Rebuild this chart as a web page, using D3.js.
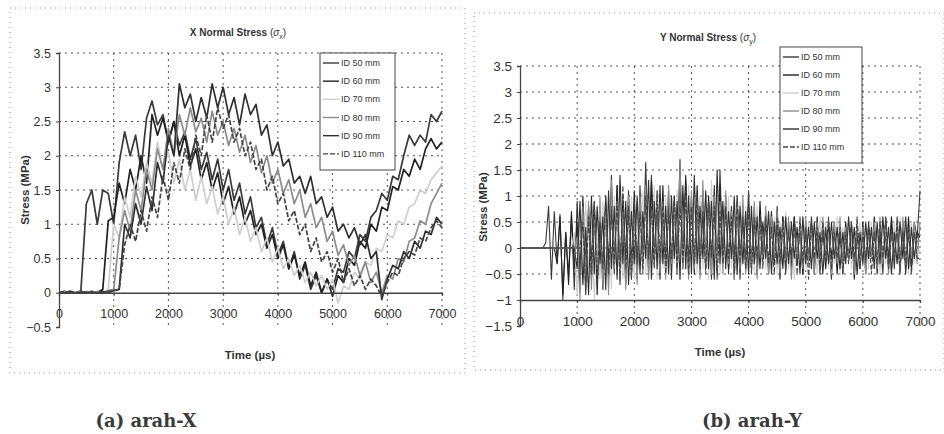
<!DOCTYPE html>
<html>
<head>
<meta charset="utf-8">
<script src="https://cdn.jsdelivr.net/npm/d3@7"></script>
<style>
    body { margin: 0; background: #fff; }
    svg { display: block; }
    .tick text { font-family: "Liberation Sans", Arial, sans-serif; }
</style>
</head>
<body>
<svg width="944" height="434"></svg>
<script>
// sample spacing of the traces, in µs
const timeStepX = 100;
const timeStepY = 50;

const seriesNames = ["ID 50 mm", "ID 60 mm", "ID 70 mm", "ID 80 mm", "ID 90 mm", "ID 110 mm"];
const timeTicks = [0, 1000, 2000, 3000, 4000, 5000, 6000, 7000];
const stressTicksX = [-0.5, 0, 0.5, 1, 1.5, 2, 2.5, 3, 3.5];
const stressTicksY = [-1.5, -1, -0.5, 0, 0.5, 1, 1.5, 2, 2.5, 3, 3.5];

// (a) X normal stress, MPa, every 100 µs from 0 to 7000
const sxID50 = [0,0,0.02,0,0.03,1.3,1.5,1.0,1.5,1.45, 1.0,1.9,2.35,2.0,2.3,1.8,2.55,2.8,2.45,2.6, 2.2,2.5,2.15,2.35,1.95,2.25,1.8,2.05,1.65,1.95, 1.5,1.8,1.35,1.6,1.15,1.4,0.95,1.1,0.7,0.95, 0.55,0.75,0.35,0.6,0.2,0.4,0.05,0.25,0.0,0.2, 0.05,0.35,0.3,0.6,0.5,0.85,0.75,1.1,1.2,1.45, 1.35,1.7,1.65,2.0,2.3,2.15,2.3,2.2,2.6,2.5,2.65];
const sxID60 = [0,0.02,0,0,0.01,0,0.02,0,0.05,1.05, 1.1,1.6,1.3,1.8,1.5,2.0,1.6,2.6,2.3,2.55, 2.2,2.5,2.0,2.3,1.85,2.1,1.65,1.9,1.5,1.75, 1.3,1.55,1.15,1.4,1.0,1.2,0.85,1.0,0.65,0.85, 0.5,0.7,0.35,0.55,0.25,0.45,0.1,0.3,0.0,0.2, -0.05,0.25,0.15,0.5,0.4,0.75,0.65,1.0,0.9,1.25, 1.2,1.55,1.5,1.8,1.7,1.95,1.8,2.1,2.25,2.1,2.2];
const sxID70 = [0,0,0.02,0,0,0.02,0,0.01,0,0.05, 1.0,0.8,1.4,1.1,1.7,1.4,1.9,1.6,2.2,1.8, 2.05,1.6,1.95,1.5,1.8,1.35,1.7,1.3,1.55,1.15, 1.4,1.0,1.25,0.85,1.1,0.75,0.95,0.6,0.8,0.45, 0.65,0.35,0.5,0.25,0.4,0.15,0.3,0.1,0.25,0.05, 0.2,-0.15,0.1,0.05,0.3,0.2,0.45,0.4,0.65,0.6, 0.85,0.8,1.05,1.0,1.25,1.3,1.5,1.45,1.65,1.75,1.85];
const sxID80 = [0,0.02,0,0,0.02,0,0,0.02,0,0.03, 0.05,0.8,1.2,0.9,1.5,1.2,1.8,1.5,2.1,1.8, 2.4,2.0,2.6,2.3,2.7,2.35,2.55,2.2,2.65,2.3, 2.5,2.15,2.4,2.05,2.3,1.9,2.15,1.75,2.0,1.6, 1.8,1.45,1.65,1.3,1.5,1.1,1.3,0.95,1.1,0.75, 0.9,0.55,0.7,0.4,0.55,0.25,0.45,0.15,0.3,0.0, 0.25,0.2,0.5,0.45,0.75,0.8,1.05,1.0,1.3,1.45,1.6];
const sxID90 = [0,0,0.02,0,0,0.01,0,0,0.02,0, 0.03,0.05,1.0,0.8,1.3,1.0,1.55,1.2,1.9,1.6, 2.3,2.0,3.05,2.7,2.9,2.5,2.85,2.55,3.05,2.7, 3.0,2.6,2.85,2.45,2.9,2.6,2.75,2.3,2.45,2.0, 2.2,1.85,1.95,1.6,1.7,1.45,1.7,1.3,1.4,1.1, 1.25,0.9,1.0,0.8,0.95,0.7,0.85,0.5,0.6,-0.1, 0.2,0.4,0.35,0.6,0.5,0.75,0.65,0.9,0.85,1.1,1.0];
const sxID110 = [0,0.02,0,0,0.02,0,0.01,0,0,0.02, 0.03,0.05,0.7,1.0,0.75,1.2,0.9,1.4,1.1,1.7, 1.35,1.9,1.6,2.1,1.8,2.3,2.0,2.6,2.2,2.7, 2.4,2.6,2.2,2.4,2.0,2.2,1.8,1.95,1.5,1.7, 1.3,1.45,1.05,1.2,0.85,1.0,0.6,0.8,0.45,0.6, 0.3,0.5,0.15,0.35,0.1,0.25,0.05,0.2,0.1,-0.05, 0.15,0.3,0.25,0.5,0.6,0.55,0.8,0.75,0.95,1.05,0.95];

// (b) Y normal stress, MPa, every 50 µs from 0 to 7000
const syID50 = [0,0,0,0,0,0,0,0,0,0.1, 0.8,-0.6,0.7,-0.3,0.65,-1.0,0.3,-0.5,0.6,-0.8,
    0.9,-0.4,0.7,-0.9,0.8,-0.2,0.9,-0.6,0.5,-0.8, 0.9,-0.3,1.4,-0.5,1.2,-0.7,1.0,-0.2,1.1,-0.6,
    0.8,-0.5,1.2,-0.3,1.65,-0.4,1.4,-0.2,1.0,-0.5, 0.7,-0.3,1.1,-0.6,0.9,-0.2,1.7,-0.4,1.3,-0.5,
    1.0,-0.3,0.8,-0.5,1.1,-0.2,0.9,-0.6,1.2,-0.4, 1.5,-0.3,1.0,-0.5,0.8,-0.2,0.9,-0.6,0.7,-0.3,
    1.1,-0.4,0.8,-0.5,0.6,-0.2,0.7,-0.5,0.5,-0.3, 0.8,-0.4,0.6,-0.5,0.5,-0.2,0.6,-0.3,0.4,-0.5,
    0.5,-0.3,0.6,-0.4,0.3,-0.5,0.5,-0.2,0.4,-0.6, 0.5,-0.3,0.4,-0.5,0.3,-0.2,0.5,-0.4,0.4,-0.3,
    0.3,-0.5,0.5,-0.2,0.4,-0.4,0.3,-0.5,0.6,-0.2, 0.5,-0.4,0.6,-0.3,0.4,-0.5,0.3,-0.3,0.5,0.2, 1.1];
const syID60 = [0,0,0,0,0,0,0,0,0,0, 0,0,0,-0.3,0.6,-0.9,0.3,-0.7,0.7,-0.4,
    0.5,-0.8,1.0,-0.3,0.7,-0.6,0.8,-0.9,0.6,-0.4, 1.0,-0.6,0.8,-0.4,1.2,-0.5,0.9,-0.7,0.8,-0.3,
    1.1,-0.6,0.9,-0.2,1.0,-0.5,1.3,-0.3,0.9,-0.6, 1.2,-0.4,0.8,-0.3,1.0,-0.5,1.3,-0.2,1.4,-0.4,
    0.9,-0.5,1.2,-0.3,0.7,-0.4,1.0,-0.2,0.8,-0.5, 1.2,-0.3,0.9,-0.4,0.7,-0.6,1.0,-0.2,0.6,-0.4,
    0.8,-0.3,0.6,-0.5,0.9,-0.2,0.5,-0.4,0.7,-0.3, 0.5,-0.6,0.6,-0.2,0.4,-0.4,0.6,-0.3,0.5,-0.5,
    0.4,-0.2,0.5,-0.5,0.6,-0.3,0.3,-0.4,0.5,-0.2, 0.4,-0.5,0.3,-0.3,0.5,-0.2,0.4,-0.6,0.3,-0.4,
    0.5,-0.3,0.4,-0.2,0.6,-0.5,0.4,-0.3,0.3,-0.4, 0.6,-0.2,0.4,-0.5,0.5,-0.3,0.6,-0.4,0.3,0.0, 0.4];
const syID70 = [0,0,0,0,0,0,0,0,0,0, 0,0,0,0,0,0,0,0,0,0.3,
    -0.9,0.6,-0.7,0.9,-0.4,0.5,-1.0,0.7,-0.6,0.9, -0.5,0.7,-0.8,1.0,-0.4,1.2,-0.6,0.8,-0.3,1.0,
    -0.6,0.9,-0.4,1.1,-0.5,0.8,-0.3,1.2,-0.6,0.9, -0.4,1.0,-0.5,0.8,-0.3,1.1,-0.6,1.0,-0.4,1.2,
    -0.3,0.9,-0.5,1.0,-0.4,0.8,-0.6,1.3,-0.3,0.9, -0.5,0.8,-0.3,1.0,-0.4,0.7,-0.5,0.9,-0.3,0.8,
    -0.4,0.6,-0.5,0.8,-0.3,0.5,-0.4,0.7,-0.2,0.6, -0.5,0.5,-0.3,0.7,-0.4,0.5,-0.6,0.4,-0.3,0.6,
    -0.4,0.5,-0.2,0.4,-0.5,0.6,-0.3,0.5,-0.4,0.3, -0.3,0.6,-0.5,0.4,-0.2,0.5,-0.4,0.3,-0.5,0.5,
    -0.3,0.4,-0.4,0.5,-0.2,0.3,-0.5,0.6,-0.3,0.4, -0.4,0.5,-0.3,0.6,-0.2,0.4,-0.5,0.5,-0.3,0.1, -0.1];
const syID80 = [0,0,0,0,0,0,0,0,0,0, 0,0,0,0,0,0,0,0,0,0,
    0.2,-1.0,0.8,-0.5,0.9,-0.8,0.6,-0.4,1.0,-0.7, 0.7,-0.9,1.3,-0.4,0.9,-0.6,0.7,-0.8,1.0,-0.5,
    0.6,-0.7,1.0,-0.4,1.2,-0.6,0.8,-0.3,1.1,-0.5, 0.9,-0.6,1.2,-0.3,0.8,-0.5,1.6,-0.4,1.0,-0.6,
    1.1,-0.4,0.9,-0.6,1.3,-0.3,0.8,-0.5,1.0,-0.4, 0.9,-0.5,1.1,-0.3,0.7,-0.6,0.9,-0.4,1.0,-0.5,
    0.7,-0.4,0.9,-0.6,0.5,-0.3,0.8,-0.5,0.6,-0.2, 0.7,-0.5,0.5,-0.3,0.6,-0.6,0.4,-0.2,0.5,-0.4,
    0.6,-0.3,0.4,-0.5,0.5,-0.4,0.6,-0.2,0.3,-0.5, 0.5,-0.3,0.6,-0.4,0.4,-0.2,0.3,-0.5,0.5,-0.3,
    0.4,-0.5,0.3,-0.2,0.5,-0.4,0.6,-0.3,0.4,-0.5, 0.3,-0.2,0.5,-0.4,0.6,-0.3,0.4,-0.2,0.5,-0.3, 0.5];
const syID90 = [0,0,0,0,0,0,0,0,0,0, 0,0,0,0,0,0,0,0,0,0,
    -0.4,0.9,-0.7,0.4,-0.9,1.0,-0.5,0.8,-0.3,0.6, -0.8,1.1,-0.4,0.8,-0.6,1.4,-0.3,0.9,-0.7,0.7,
    -0.3,1.0,-0.5,0.7,-0.2,1.3,-0.6,0.9,-0.4,1.2, -0.3,0.8,-0.5,1.0,-0.2,0.9,-0.6,1.2,-0.4,1.0,
    -0.5,1.4,-0.3,0.8,-0.2,1.1,-0.4,0.9,-0.6,1.5, -0.3,0.9,-0.4,0.7,-0.2,1.0,-0.5,0.8,-0.3,0.7,
    -0.5,0.8,-0.3,0.6,-0.4,0.5,-0.2,0.7,-0.5,0.5, -0.3,0.4,-0.4,0.6,-0.3,0.5,-0.2,0.4,-0.5,0.6,
    -0.3,0.4,-0.4,0.5,-0.2,0.3,-0.5,0.4,-0.3,0.5, -0.2,0.4,-0.4,0.3,-0.3,0.6,-0.2,0.4,-0.5,0.3,
    -0.3,0.5,-0.2,0.4,-0.4,0.5,-0.3,0.6,-0.2,0.4, -0.5,0.3,-0.3,0.5,-0.2,0.6,-0.4,0.4,-0.2,0.3, 0.2];
const syID110 = [0,0,0,0,0,0,0,0,0,0, 0,0,0,0,0,0,0,0,0,0,
    0,0,0.5,-0.8,0.6,-0.5,0.9,-0.7,0.5,-0.4, 1.0,-0.5,0.7,-0.3,0.9,-0.6,1.2,-0.4,0.8,-0.6,
    0.9,-0.3,0.7,-0.5,1.0,-0.2,0.8,-0.4,1.1,-0.3, 0.9,-0.5,0.7,-0.2,1.0,-0.4,0.8,-0.3,1.1,-0.5,
    0.8,-0.3,1.0,-0.4,0.7,-0.5,0.9,-0.2,0.8,-0.6, 0.7,-0.3,0.8,-0.2,0.6,-0.5,0.9,-0.3,0.6,-0.4,
    0.8,-0.5,0.6,-0.2,0.5,-0.4,0.6,-0.3,0.4,-0.5, 0.6,-0.3,0.5,-0.4,0.3,-0.2,0.5,-0.5,0.6,-0.3,
    0.4,-0.6,0.5,-0.2,0.4,-0.4,0.5,-0.3,0.6,-0.4, 0.3,-0.2,0.4,-0.5,0.3,-0.3,0.5,-0.2,0.6,-0.4,
    0.3,-0.2,0.4,-0.5,0.3,-0.3,0.5,-0.2,0.6,-0.4, 0.3,-0.2,0.5,-0.4,0.3,-0.3,0.4,-0.5,0.3,-0.2, -0.2];

const lineStyles = 
[
    { color: "#3a3a3a", dash: null },
    { color: "#222", dash: null },
    { color: "#cfcfcf", dash: null },
    { color: "#8c8c8c", dash: null },
    { color: "#303030", dash: null },
    { color: "#444", dash: "5,2" }
];

const svg = d3.select("svg");
const font = "'Liberation Sans', Arial, sans-serif";

function drawChart(opt) 
{
    const panel = svg.append("g");

    // dotted frame of the chart area
    panel.append("rect")
        .attr("x", opt.frame[0]).attr("y", opt.frame[1])
        .attr("width", opt.frame[2]).attr("height", opt.frame[3])
        .attr("fill", "none")
        .attr("stroke", "#999")
        .attr("stroke-dasharray", "1,4");

    const x = d3.scaleLinear().domain([0, 7000]).range([opt.left, opt.right]);
    const y = d3.scaleLinear().domain(opt.yDomain).range([opt.bottom, opt.top]);

    // grid
    const grid = panel.append("g")
        .attr("stroke", "#555")
        .attr("stroke-width", 1)
        .attr("stroke-dasharray", "2,4");

    grid.selectAll("line.h")
        .data(opt.yTicks.filter(d => d !== opt.yDomain[0] && d !== opt.xAxisAt))
        .join("line")
        .attr("class", "h")
        .attr("x1", opt.left).attr("x2", opt.right)
        .attr("y1", d => y(d)).attr("y2", d => y(d));

    grid.selectAll("line.v")
        .data(timeTicks.slice(1))
        .join("line")
        .attr("class", "v")
        .attr("x1", d => x(d)).attr("x2", d => x(d))
        .attr("y1", opt.top).attr("y2", opt.bottom);

    // traces
    const line = d3.line()
        .x((d, i) => x(i * opt.step))
        .y(d => y(d));

    panel.selectAll("path.trace")
        .data(opt.series)
        .join("path")
        .attr("class", "trace")
        .attr("d", d => line(d))
        .attr("fill", "none")
        .attr("stroke", (d, i) => lineStyles[i].color)
        .attr("stroke-width", opt.lineWidth)
        .attr("stroke-dasharray", (d, i) => lineStyles[i].dash)
        .attr("stroke-linejoin", "round");

    // axes
    const yAxis = panel.append("g")
        .attr("transform", `translate(${opt.left},0)`)
        .call(d3.axisLeft(y).tickValues(opt.yTicks).tickSize(3).tickPadding(5).tickFormat(d3.format("")));

    const xAxis = panel.append("g")
        .attr("transform", `translate(0,${y(opt.xAxisAt)})`)
        .call(d3.axisBottom(x).tickValues(timeTicks).tickSize(3).tickPadding(opt.xPad).tickFormat(d3.format("d")));

    [xAxis, yAxis].forEach(a => 
    {
        a.select(".domain").attr("stroke", "#444").attr("stroke-width", 1.3);
        a.selectAll(".tick line").attr("stroke", "#444");
        a.selectAll(".tick text").style("font-size", opt.tickFont).attr("fill", "#333");
    });

    // titles
    const title = panel.append("text")
        .attr("x", opt.titlePos[0]).attr("y", opt.titlePos[1])
        .attr("text-anchor", "middle")
        .style("font-family", font).style("font-size", "10px").style("font-weight", "bold")
        .attr("fill", "#333")
        .text(opt.title + " ");

    title.append("tspan").style("font-weight", "normal").text("(");
    title.append("tspan").style("font-style", "italic").style("font-weight", "normal").text("σ");
    title.append("tspan").attr("dy", 3).style("font-size", "7px").style("font-weight", "normal").text(opt.sub);
    title.append("tspan").attr("dy", -3).style("font-weight", "normal").text(")");

    panel.append("text")
        .attr("transform", `translate(${opt.yLabelPos[0]},${opt.yLabelPos[1]}) rotate(-90)`)
        .attr("text-anchor", "middle")
        .style("font-family", font).style("font-size", "11.5px").style("font-weight", "bold")
        .attr("fill", "#333")
        .text("Stress (MPa)");

    panel.append("text")
        .attr("x", opt.xLabelPos[0]).attr("y", opt.xLabelPos[1])
        .attr("text-anchor", "middle")
        .style("font-family", font).style("font-size", "11.5px").style("font-weight", "bold")
        .attr("fill", "#333")
        .text("Time (µs)");

    // legend
    const lg = panel.append("g").attr("transform", `translate(${opt.legend[0]},${opt.legend[1]})`);

    lg.append("rect")
        .attr("width", opt.legend[2]).attr("height", opt.legend[3])
        .attr("fill", "#fff")
        .attr("stroke", "#444");

    const rowH = (opt.legend[3] - 8) / seriesNames.length;

    const rows = lg.selectAll("g.row")
        .data(seriesNames)
        .join("g")
        .attr("class", "row")
        .attr("transform", (d, i) => `translate(0,${10 + i * rowH})`);

    rows.append("line")
        .attr("x1", 3).attr("x2", 19)
        .attr("stroke", (d, i) => lineStyles[i].color)
        .attr("stroke-width", 1.4)
        .attr("stroke-dasharray", (d, i) => lineStyles[i].dash);

    rows.append("text")
        .attr("x", 21).attr("dy", "0.35em")
        .style("font-family", font).style("font-size", "9px")
        .attr("fill", "#333")
        .text(d => d);

    // caption
    svg.append("text")
        .attr("x", opt.caption[0]).attr("y", opt.caption[1])
        .attr("text-anchor", "middle")
        .style("font-family", "'DejaVu Serif', 'Liberation Serif', serif")
        .style("font-size", "18px").style("font-weight", "bold")
        .attr("fill", "#3a3a3a")
        .text(opt.captionText);
}

drawChart({
    frame: [10, 8, 455, 365],
    left: 59, right: 442, top: 53, bottom: 327,
    yDomain: [-0.5, 3.5], yTicks: stressTicksX, xAxisAt: 0, xPad: 13,
    series: [sxID50, sxID60, sxID70, sxID80, sxID90, sxID110],
    step: timeStepX, lineWidth: 1.7, tickFont: "12.5px",
    title: "X Normal Stress", sub: "x", titlePos: [238, 36],
    yLabelPos: [29, 190], xLabelPos: [250, 359],
    legend: [320, 53, 75, 117],
    caption: [146, 427], captionText: "(a) arah-X"
});

drawChart({
    frame: [474, 13, 470, 357],
    left: 520, right: 920, top: 66, bottom: 326,
    yDomain: [-1.5, 3.5], yTicks: stressTicksY, xAxisAt: -1, xPad: 13,
    series: [syID50, syID60, syID70, syID80, syID90, syID110],
    step: timeStepY, lineWidth: 1.1, tickFont: "13.5px",
    title: "Y Normal Stress", sub: "y", titlePos: [708, 41],
    yLabelPos: [487, 207], xLabelPos: [720, 356],
    legend: [780, 47, 82, 116],
    caption: [752, 427], captionText: "(b) arah-Y"
});
</script>
</body>
</html>
